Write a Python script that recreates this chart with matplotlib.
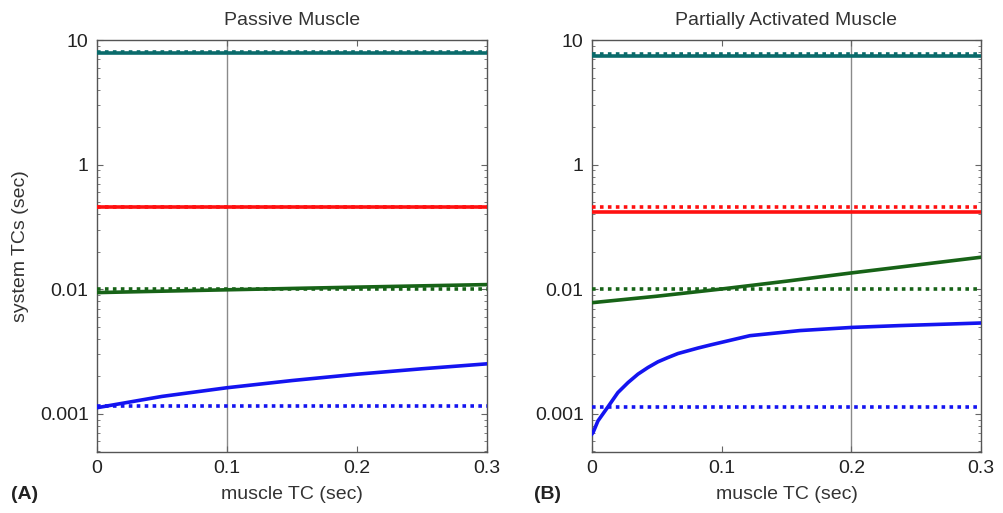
import numpy as np
import matplotlib
matplotlib.use("Agg")
import matplotlib.pyplot as plt
from matplotlib.ticker import FixedLocator, NullFormatter, LogLocator

plt.rcParams["font.family"] = ["Liberation Sans", "DejaVu Sans"]

# muscle time constant (sec)
tc_grid = [0.0, 0.05, 0.1, 0.15, 0.2, 0.25, 0.3]
tc_fine = [0.0, 0.0008, 0.0046, 0.0123, 0.02, 0.0278, 0.0355, 0.0432, 0.0509,
           0.0586, 0.0663, 0.074, 0.0817, 0.0918, 0.1218, 0.1604, 0.2005,
           0.2375, 0.276, 0.3]

# system time constants, passive muscle
passive_slow = [7.86] * 7
passive_mid = [0.46] * 7
passive_fast = [0.094, 0.0965, 0.099, 0.1015, 0.104, 0.1065, 0.109]
passive_fastest = [0.0112, 0.0138, 0.0162, 0.0185, 0.0208, 0.023, 0.0252]

# system time constants, partially activated muscle
active_slow = [7.44] * 7
active_mid = [0.42] * 7
active_fast = [0.078, 0.0879, 0.1005, 0.1161, 0.1352, 0.1563, 0.1807]
active_fastest = [0.0069, 0.00706, 0.00877, 0.01137, 0.01482, 0.01782, 0.02084,
                  0.02355, 0.02617, 0.02831, 0.03048, 0.03206, 0.03373,
                  0.03581, 0.0424, 0.0466, 0.0494, 0.0511, 0.0526, 0.0536]

# reference levels (dotted)
ref_passive = [7.95, 0.46, 0.1, 0.0116]
ref_active = [7.71, 0.454, 0.1, 0.0113]

ytick_vals = [10, 1, 0.1, 0.01]
ytick_labels = ["10", "1", "0.01", "0.001"]
xtick_vals = [0, 0.1, 0.2, 0.3]
xtick_labels = ["0", "0.1", "0.2", "0.3"]

TEAL = "#0a6b6b"
RED = "#ff1010"
GREEN = "#176317"
BLUE = "#1414f0"
colors = [TEAL, RED, GREEN, BLUE]

fig = plt.figure(figsize=(10.04, 5.13), dpi=100)
ax_a = fig.add_axes([0.0966, 0.1189, 0.3884, 0.803])
ax_b = fig.add_axes([0.5896, 0.1189, 0.3875, 0.803])


def style_axes(ax, vline):
    ax.set_yscale("log")
    ax.set_xlim(0, 0.3)
    ax.set_ylim(0.00494, 10)
    ax.axvline(vline, color="#8a8a8a", lw=1.0, zorder=1)
    ax.yaxis.set_major_locator(FixedLocator(ytick_vals))
    ax.set_yticklabels(ytick_labels)
    ax.yaxis.set_minor_locator(LogLocator(base=10, subs=np.arange(2, 10)))
    ax.yaxis.set_minor_formatter(NullFormatter())
    ax.set_xticks(xtick_vals)
    ax.set_xticklabels(xtick_labels)
    ax.tick_params(which="both", direction="in", top=True, right=True,
                   color="#666666", labelsize=14, labelcolor="#222222", pad=6)
    ax.tick_params(which="major", length=4)
    ax.tick_params(which="minor", length=2)
    for sp in ax.spines.values():
        sp.set_color("#555555")
        sp.set_linewidth(1.0)
    ax.set_xlabel("muscle TC (sec)", fontsize=14, color="#333333", labelpad=6)


# (A) passive muscle
ax_a.plot(tc_grid, passive_slow, color=TEAL, lw=2.6, zorder=3)
ax_a.plot(tc_grid, passive_mid, color=RED, lw=2.6, zorder=3)
ax_a.plot(tc_grid, passive_fast, color=GREEN, lw=2.6, zorder=3)
ax_a.plot(tc_grid, passive_fastest, color=BLUE, lw=2.6, zorder=3)
for r, c in zip(ref_passive, colors):
    ax_a.axhline(r, color=c, lw=2.6, ls=(0, (1, 1.2)), zorder=4)
style_axes(ax_a, 0.1)
ax_a.set_title("Passive Muscle", fontsize=14, color="#333333", pad=11)
ax_a.set_ylabel("system TCs (sec)", fontsize=14, color="#333333", labelpad=8)

# (B) partially activated muscle
ax_b.plot(tc_grid, active_slow, color=TEAL, lw=2.6, zorder=3)
ax_b.plot(tc_grid, active_mid, color=RED, lw=2.6, zorder=3)
ax_b.plot(tc_grid, active_fast, color=GREEN, lw=2.6, zorder=3)
ax_b.plot(tc_fine, active_fastest, color=BLUE, lw=2.6, zorder=3)
for r, c in zip(ref_active, colors):
    ax_b.axhline(r, color=c, lw=2.6, ls=(0, (1, 1.2)), zorder=4)
style_axes(ax_b, 0.2)
ax_b.set_title("Partially Activated Muscle", fontsize=14, color="#333333", pad=11)

fig.text(0.011, 0.028, "(A)", fontsize=14, fontweight="bold", color="#222222")
fig.text(0.532, 0.028, "(B)", fontsize=14, fontweight="bold", color="#222222")

fig.savefig("out.png", dpi=100)
